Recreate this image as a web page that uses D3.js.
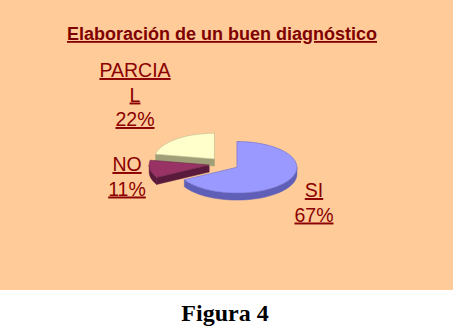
<!DOCTYPE html>
<html>
<head>
<meta charset="utf-8">
<script src="https://cdn.jsdelivr.net/npm/d3@7"></script>
<style>
  html, body { margin: 0; padding: 0; background: #ffffff; }
  svg { display: block; }
</style>
</head>
<body>
<svg id="chart" width="460" height="330"></svg>
<script>
// ---- data ----
const categories = ["SI", "NO", "PARCIAL"];
const values = [67, 11, 22];
const labelLines = [["SI", "67%"], ["NO", "11%"], ["PARCIA", "L", "22%"]];
const title = "Elaboración de un buen diagnóstico";
const caption = "Figura 4";

// ---- styles / layout ----
const topColors = ["#9999FF", "#993366", "#FFFFCC"];
const sideColors = ["#5F5FB8", "#5A1A3C", "#A0A078"];
const edgeColors = ["#6C6CC8", "#6A2246", "#B8B890"];
const labelPos = [[314, 197], [127, 171], [135, 77]];
const lineGap = 24.5;

const W = 460, H = 330;
const svg = d3.select("#chart");

svg.append("rect").attr("x", 0).attr("y", 0).attr("width", 453).attr("height", 290)
  .attr("fill", "#FFCC99");

svg.append("text").attr("x", 222).attr("y", 40)
  .attr("text-anchor", "middle")
  .attr("font-family", "'Liberation Sans', Arial, sans-serif")
  .attr("font-weight", "bold").attr("font-size", 18)
  .attr("fill", "#800000")
  .style("text-decoration", "underline")
  .text(title);

// ---- 3D pie ----
const cx = 224, cy = 164, R = 60, k = 0.43, explode = 15, depth = 7;
const pie = d3.pie().sort(null).startAngle(0).endAngle(2 * Math.PI);
const arcs = pie(values);

function proj(theta, r, ox, oy, dz) {
  return [cx + ox + r * Math.sin(theta), cy + (oy - r * Math.cos(theta)) * k + (dz || 0)];
}
const line = d3.line();

const walls = svg.append("g");
const tops = svg.append("g");

arcs.forEach((a, i) => {
  const mid = (a.startAngle + a.endAngle) / 2;
  const ox = explode * Math.sin(mid), oy = -explode * Math.cos(mid);
  const s = a.startAngle, e = a.endAngle;
  const N = 80;

  // outer front wall
  const lo = Math.max(s, Math.PI / 2), hi = Math.min(e, 3 * Math.PI / 2);
  if (hi > lo) {
    const pts = [];
    for (let j = 0; j <= N; j++) pts.push(proj(lo + (hi - lo) * j / N, R, ox, oy, 0));
    for (let j = N; j >= 0; j--) pts.push(proj(lo + (hi - lo) * j / N, R, ox, oy, depth));
    walls.append("path").attr("d", line(pts) + "Z")
      .attr("fill", sideColors[i]).attr("stroke", sideColors[i]).attr("stroke-width", 0.5);
  }
  // radial walls
  [[s, -Math.sin(s)], [e, Math.sin(e)]].forEach(([t, vis]) => {
    if (vis > 0.01) {
      const p0 = proj(t, 0, ox, oy, 0), p1 = proj(t, R, ox, oy, 0);
      const p2 = proj(t, R, ox, oy, depth), p3 = proj(t, 0, ox, oy, depth);
      walls.append("path").attr("d", line([p0, p1, p2, p3]) + "Z")
        .attr("fill", sideColors[i]).attr("stroke", sideColors[i]).attr("stroke-width", 0.5);
    }
  });
  // top face
  const tp = [proj(0, 0, ox, oy, 0)];
  for (let j = 0; j <= N; j++) tp.push(proj(s + (e - s) * j / N, R, ox, oy, 0));
  tops.append("path").attr("d", line(tp) + "Z")
    .attr("fill", topColors[i]).attr("stroke", edgeColors[i]).attr("stroke-width", 0.6)
    .attr("stroke-linejoin", "round");
});

// ---- labels ----
labelLines.forEach((lines, i) => {
  const t = svg.append("text")
    .attr("text-anchor", "middle")
    .attr("font-family", "'Liberation Sans', Arial, sans-serif")
    .attr("font-size", 19.5)
    .attr("fill", "#8B0000")
    .style("text-decoration", "underline");
  lines.forEach((l, j) => {
    t.append("tspan").attr("x", labelPos[i][0]).attr("y", labelPos[i][1] + j * lineGap).text(l);
  });
});

// ---- caption ----
svg.append("text").attr("x", 225).attr("y", 321)
  .attr("text-anchor", "middle")
  .attr("font-family", "'Liberation Serif', 'Times New Roman', serif")
  .attr("font-weight", "bold").attr("font-size", 24)
  .attr("fill", "#000000")
  .text(caption);
</script>
</body>
</html>
